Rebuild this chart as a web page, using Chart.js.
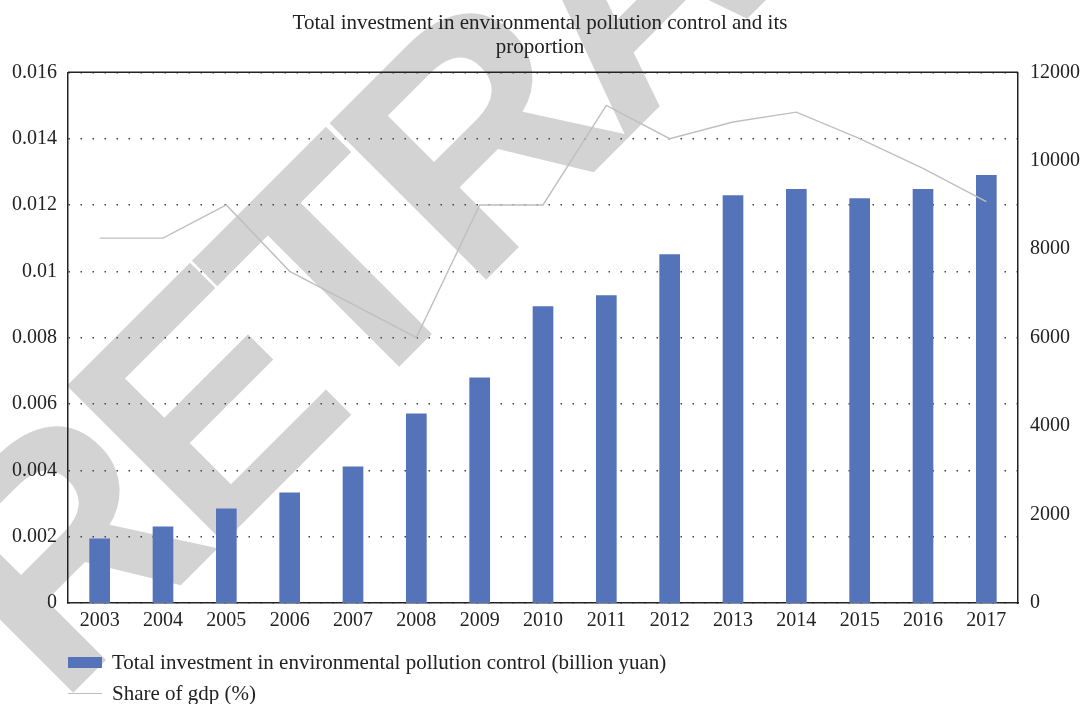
<!DOCTYPE html>
<html>
<head>
<meta charset="utf-8">
<script src="https://cdn.jsdelivr.net/npm/chart.js@4"></script>
<style>
    body { margin: 0; background: #fff; }
    #wrap { position: relative; width: 1080px; height: 704px; }
    .legend { position: absolute; left: 68px; font-family: "Liberation Serif", serif; font-size: 21px; color: #222; line-height: 24px; }
    .legend span { display: inline-block; vertical-align: middle; }
</style>
</head>
<body>
<div id="wrap">
    <canvas id="myChart"></canvas>
    <div class="legend" style="top: 648px;">
        <span style="width: 34px; height: 11px; background: #5473b9; margin-right: 10px;"></span><span>Total investment in environmental pollution control (billion yuan)</span>
    </div>
    <div class="legend" style="top: 679px;">
        <span style="width: 34px; height: 1px; background: #bfbfbf; margin-right: 10px;"></span><span>Share of gdp (%)</span>
    </div>
</div>
<script>
const years = ['2003', '2004', '2005', '2006', '2007', '2008', '2009', '2010', '2011', '2012', '2013', '2014', '2015', '2016', '2017'];
const investment = [1449, 1721, 2128, 2491, 3079, 4279, 5094, 6702, 6951, 7879, 9215, 9351, 9147, 9351, 9668];
const gdpShare = [0.011, 0.011, 0.012, 0.010, 0.009, 0.008, 0.012, 0.012, 0.015, 0.014, 0.0145, 0.0148, 0.014, 0.0131, 0.0121];
const shareTicks = [0, 0.016, 0.002];
const investTicks = [0, 12000, 2000];

const serif = 'Liberation Serif';

// big grey "RETRACTED" stamp behind the chart
const watermark = {
    id: 'watermark',
    beforeDraw(chart) {
        const ctx = chart.ctx;
        ctx.save();
        ctx.fillStyle = '#d3d3d3';
        ctx.translate(58, 708);
        ctx.rotate(-Math.PI / 4);
        ctx.font = 'bold 322px "Liberation Sans"';
        let x = 0;
        for (const ch of 'RETRACTED') {
            ctx.fillText(ch, x, 0);
            x += ctx.measureText(ch).width - 20;
        }
        ctx.restore();
    }
};

const frameTop = {
    id: 'frameTop',
    afterDatasetsDraw(chart) {
        const { ctx, chartArea } = chart;
        ctx.save();
        ctx.strokeStyle = '#222';
        ctx.lineWidth = 1.5;
        ctx.beginPath();
        ctx.moveTo(chartArea.left, chartArea.top);
        ctx.lineTo(chartArea.right, chartArea.top);
        ctx.stroke();
        ctx.restore();
    }
};

const ctx = document.getElementById('myChart').getContext('2d');
new Chart(ctx, {
    type: 'bar',
    data: {
        labels: years,
        datasets: [{
            type: 'line',
            label: 'Share of gdp (%)',
            data: gdpShare,
            yAxisID: 'y',
            borderColor: '#bfbfbf',
            borderWidth: 1.4,
            pointRadius: 0,
            tension: 0,
            order: 0
        }, {
            label: 'Total investment in environmental pollution control (billion yuan)',
            data: investment,
            yAxisID: 'y1',
            backgroundColor: '#5473b9',
            barThickness: 20,
            order: 1
        }]
    },
    options: {
        responsive: true,
        maintainAspectRatio: false,
        animation: false,
        layout: { padding: { left: 0, right: 0, top: 0, bottom: 66 } },
        plugins: {
            legend: { display: false },
            tooltip: { enabled: false },
            title: {
                display: true,
                text: ['Total investment in environmental pollution control and its', 'proportion'],
                color: '#222',
                font: { family: serif, size: 21, weight: 'normal', lineHeight: 1.15 },
                padding: { top: 11, bottom: 13 }
            }
        },
        scales: {
            x: {
                grid: { display: false, drawTicks: false },
                border: { color: '#222', width: 1.5 },
                ticks: { color: '#222', font: { family: serif, size: 20 }, padding: 6, maxRotation: 0 },
                afterFit: s => { s.height = 35; }
            },
            y: {
                position: 'left',
                min: shareTicks[0],
                max: shareTicks[1],
                ticks: {
                    stepSize: shareTicks[2],
                    color: '#222',
                    font: { family: serif, size: 20 },
                    padding: 11,
                    callback: v => String(+v.toFixed(4))
                },
                grid: { color: '#444', lineWidth: 1.5, drawTicks: false },
                border: { color: '#222', width: 1.5, dash: [1.5, 10.5] },
                afterFit: s => { s.width = 68; }
            },
            y1: {
                position: 'right',
                min: investTicks[0],
                max: investTicks[1],
                ticks: {
                    stepSize: investTicks[2],
                    color: '#222',
                    font: { family: serif, size: 20 },
                    padding: 12,
                    callback: v => String(v)
                },
                grid: { display: false, drawTicks: false },
                border: { color: '#222', width: 1.5 },
                afterFit: s => { s.width = 62; }
            }
        }
    },
    plugins: [watermark, frameTop]
});
</script>
</body>
</html>
